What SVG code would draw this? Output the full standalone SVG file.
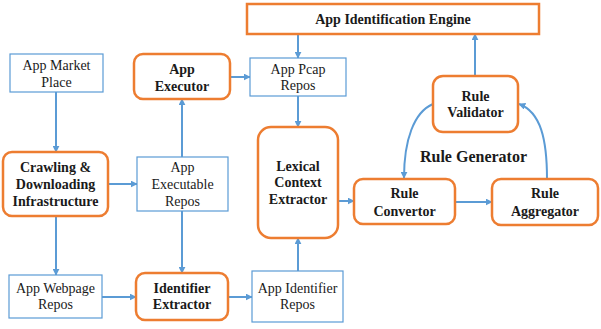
<svg xmlns="http://www.w3.org/2000/svg" width="601" height="329" viewBox="0 0 601 329">
<defs>
<marker id="ah" viewBox="0 0 10 10" refX="9" refY="5" markerWidth="7" markerHeight="7" markerUnits="userSpaceOnUse" orient="auto">
<path d="M0,0 L10,5 L0,10 z" fill="#5B9BD5"/>
</marker>
<style>
.bb{fill:#fff;stroke:#5B9BD5;stroke-width:1.2}
.ob{fill:#fff;stroke:#ED7D31;stroke-width:2.5}
text{font-family:'Liberation Serif','DejaVu Serif',serif;font-size:14px;fill:#1a1a1a;text-anchor:middle}
.b{font-weight:bold}
.c{fill:none;stroke:#5B9BD5;stroke-width:2;marker-end:url(#ah)}
</style>
</defs>
<rect width="601" height="329" fill="#fff"/>
<g id="connectors">
<path class="c" d="M56,92 V152"/>
<path class="c" d="M182,157 V99"/>
<path class="c" d="M230,77 H250"/>
<path class="c" d="M298,34 V58"/>
<path class="c" d="M298,96 V127"/>
<path class="c" d="M108,184 H137"/>
<path class="c" d="M56,216 V275"/>
<path class="c" d="M182,211 V273"/>
<path class="c" d="M102,297 H136"/>
<path class="c" d="M228,297 H252"/>
<path class="c" d="M298,271 V238"/>
<path class="c" d="M338,201 H354"/>
<path class="c" d="M455,202 H492"/>
<path class="c" d="M475,76 V34"/>
<path class="c" d="M433,104 C414,112 404,140 404,178"/>
<path class="c" d="M547,179 C547,140 541,112 519,104"/>
</g>
<g id="engine">
<rect class="ob" x="247" y="4" width="292" height="30"/>
<text class="b" x="393" y="24">App Identification Engine</text>
</g>
<g id="market">
<rect class="bb" x="10" y="54" width="93" height="38"/>
<text x="56.500" y="70">App Market</text>
<text x="56.500" y="87">Place</text>
</g>
<g id="executor">
<rect class="ob" x="134" y="54" width="96" height="45" rx="9"/>
<text class="b" x="182" y="74">App</text>
<text class="b" x="182" y="91">Executor</text>
</g>
<g id="pcap">
<rect class="bb" x="250" y="58" width="96" height="38"/>
<text x="298" y="74">App Pcap</text>
<text x="298" y="90">Repos</text>
</g>
<g id="lexical">
<rect class="ob" x="258" y="127" width="80" height="111" rx="13"/>
<text class="b" x="298" y="171">Lexical</text>
<text class="b" x="298" y="187">Context</text>
<text class="b" x="298" y="204">Extractor</text>
</g>
<g id="crawling">
<rect class="ob" x="3" y="152" width="105" height="64" rx="9"/>
<text class="b" x="55.500" y="172">Crawling &amp;</text>
<text class="b" x="55.500" y="189">Downloading</text>
<text class="b" x="55.500" y="206">Infrastructure</text>
</g>
<g id="executable">
<rect class="bb" x="137" y="157" width="91" height="54"/>
<text x="182.500" y="172">App</text>
<text x="182.500" y="189">Executable</text>
<text x="182.500" y="206">Repos</text>
</g>
<g id="webpage">
<rect class="bb" x="9" y="275" width="93" height="43"/>
<text x="55.500" y="293">App Webpage</text>
<text x="55.500" y="309">Repos</text>
</g>
<g id="idextractor">
<rect class="ob" x="136" y="273" width="92" height="47" rx="9"/>
<text class="b" x="182" y="293">Identifier</text>
<text class="b" x="182" y="309">Extractor</text>
</g>
<g id="idrepos">
<rect class="bb" x="252" y="271" width="91" height="51"/>
<text x="297.500" y="293">App Identifier</text>
<text x="297.500" y="309">Repos</text>
</g>
<g id="validator">
<rect class="ob" x="433" y="76" width="85" height="56" rx="10"/>
<text class="b" x="475.500" y="101">Rule</text>
<text class="b" x="475.500" y="117">Validator</text>
</g>
<g id="generator-label">
<text class="b" x="473.500" y="162" style="font-size:16px">Rule Generator</text>
</g>
<g id="convertor">
<rect class="ob" x="354" y="179" width="101" height="45" rx="9"/>
<text class="b" x="404.500" y="198">Rule</text>
<text class="b" x="404.500" y="216">Convertor</text>
</g>
<g id="aggregator">
<rect class="ob" x="492" y="179" width="106" height="46" rx="9"/>
<text class="b" x="545" y="198">Rule</text>
<text class="b" x="545" y="216">Aggregator</text>
</g>
</svg>
